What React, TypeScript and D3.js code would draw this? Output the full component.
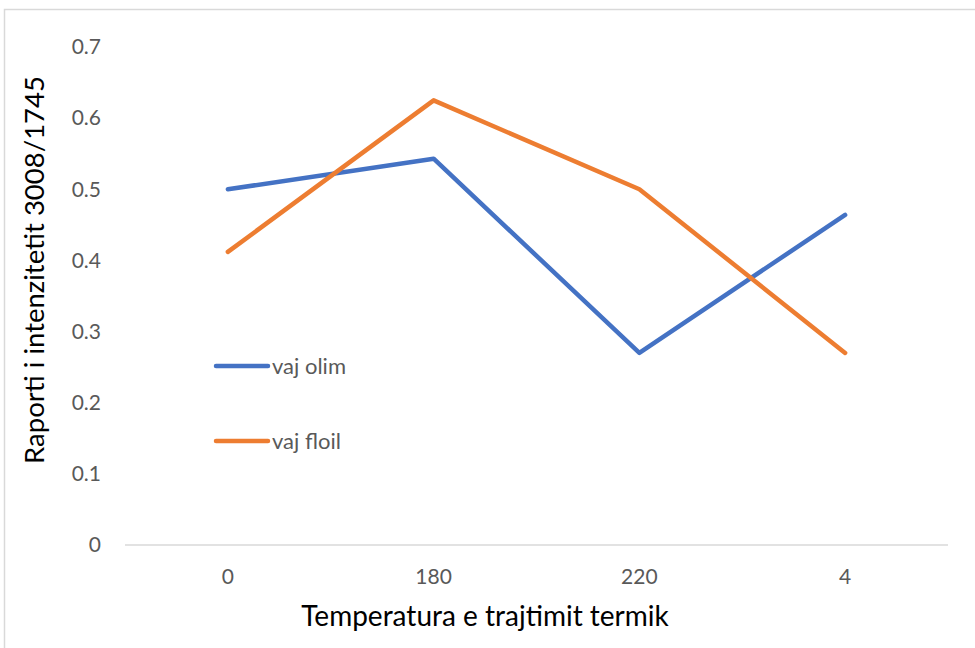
import React from "react";
import * as d3 from "d3";

const categories = ["0", "180", "220", "4"];
const vajOlim = [0.5, 0.543, 0.27, 0.464];
const vajFloil = [0.412, 0.625, 0.5, 0.27];
const yTicks = [0, 0.1, 0.2, 0.3, 0.4, 0.5, 0.6, 0.7];

const series = [
  { name: "vaj olim", values: vajOlim, color: "#4472C4" },
  { name: "vaj floil", values: vajFloil, color: "#ED7D31" },
];

const W = 975;
const H = 648;
const FONT = "Lato, 'Open Sans', sans-serif";

export default function App() {
  const x = d3.scaleBand<string>().domain(categories).range([125, 948]);
  const y = d3.scaleLinear().domain([0, 0.7]).range([545, 47]);
  const cx = (c: string) => (x(c) as number) + x.bandwidth() / 2;

  const line = d3
    .line<number>()
    .x((_, i) => cx(categories[i]))
    .y((v) => y(v));

  return (
    <svg
      width={W}
      height={H}
      style={{ position: "absolute", left: 0, top: 0, background: "#fff" }}
    >
      <rect x={4.5} y={9.5} width={990} height={700} fill="#fff" stroke="#d9d9d9" strokeWidth={1.5} />

      {/* value axis labels */}
      {yTicks.map((t) => (
        <text
          key={t}
          x={101}
          y={y(t)}
          dy="0.35em"
          textAnchor="end"
          fontFamily={FONT}
          fontSize={21}
          fill="#595959"
        >
          {t === 0 ? "0" : t.toFixed(1)}
        </text>
      ))}

      {/* baseline */}
      <line x1={125} x2={948} y1={y(0)} y2={y(0)} stroke="#d9d9d9" strokeWidth={1.5} />

      {/* category labels */}
      {categories.map((c) => (
        <text
          key={c}
          x={cx(c)}
          y={577}
          dy="0.35em"
          textAnchor="middle"
          fontFamily={FONT}
          fontSize={21}
          fill="#595959"
        >
          {c}
        </text>
      ))}

      {/* series lines */}
      {series.map((s) => (
        <path
          key={s.name}
          d={line(s.values) || ""}
          fill="none"
          stroke={s.color}
          strokeWidth={4.5}
          strokeLinecap="round"
          strokeLinejoin="round"
        />
      ))}

      {/* legend */}
      {series.map((s, i) => {
        const ly = 366 + i * 75;
        return (
          <g key={s.name}>
            <line x1={216} x2={268} y1={ly} y2={ly} stroke={s.color} strokeWidth={4.5} strokeLinecap="round" />
            <text x={272} y={ly} dy="0.35em" fontFamily={FONT} fontSize={22} fill="#595959">
              {s.name}
            </text>
          </g>
        );
      })}

      {/* axis titles */}
      <text
        transform={`translate(44,${270}) rotate(-90)`}
        textAnchor="middle"
        fontFamily={FONT}
        fontSize={27.5}
        fill="#000"
      >
        Raporti i intenzitetit 3008/1745
      </text>
      <text x={485} y={626} textAnchor="middle" fontFamily={FONT} fontSize={28} fill="#000">
        Temperatura e trajtimit termik
      </text>
    </svg>
  );
}
